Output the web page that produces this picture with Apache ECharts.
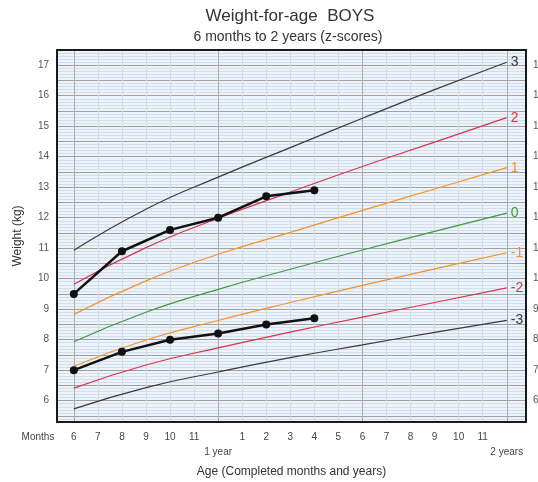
<!DOCTYPE html>
<html>
<head>
<meta charset="utf-8">
<script src="https://cdn.jsdelivr.net/npm/echarts@6/dist/echarts.min.js"></script>
<style>html,body{margin:0;padding:0;background:#fff}#c{width:538px;height:482px}</style>
</head>
<body>
<div id="c"></div>
<script>
// Age in months at which the reference curves are read
const months = [6,9,12,15,18,21,24];
// Reference z-score curves (kg)
const zNeg3 = [5.73,6.43,6.94,7.41,7.83,8.24,8.63];
const zNeg2 = [6.41,7.17,7.73,8.25,8.74,9.22,9.70];
const zNeg1 = [7.13,7.99,8.63,9.22,9.78,10.32,10.85];
const z0    = [7.93,8.90,9.65,10.31,10.94,11.55,12.15];
const zPos1 = [8.83,9.93,10.80,11.52,12.24,12.94,13.64];
const zPos2 = [9.82,11.02,11.98,12.84,13.68,14.48,15.28];
const zPos3 = [10.93,12.28,13.33,14.30,15.26,16.20,17.10];
// Plotted child measurements
const childMonths = [6,8,10,12,14,16];
const childA = [9.5,10.9,11.6,12.0,12.7,12.9];
const childB = [7.0,7.6,8.0,8.2,8.5,8.7];
// Axis tick labels
const xTickValues = [6,7,8,9,10,11,12,13,14,15,16,17,18,19,20,21,22,23,24];
const xTickLabels = ['6','7','8','9','10','11','\n1 year','1','2','3','4','5','6','7','8','9','10','11','\n2 years'];

const pair = (xs, ys) => xs.map((x, i) => [x, ys[i]]);
const font = '"Liberation Sans", Arial, sans-serif';
const frame = { show: true, lineStyle: { color: '#1a1a1a', width: 2 } };

function curve(name, ys, color, label) {
  return {
    type: 'line', name, data: pair(months, ys), smooth: true, symbol: 'none',
    lineStyle: { color, width: 1.2 }, silent: true, z: 3,
    endLabel: { show: true, formatter: label, color, fontSize: 14, fontFamily: font, distance: 4 }
  };
}
function child(ys) {
  return {
    type: 'line', data: pair(childMonths, ys), symbol: 'circle', symbolSize: 8,
    lineStyle: { color: '#111', width: 2.5 }, itemStyle: { color: '#111' }, z: 5, silent: true
  };
}
const yLabel = v => Math.abs(v - Math.round(v)) < 1e-6 ? String(Math.round(v)) : '';

const chart = echarts.init(document.getElementById('c'), null, { renderer: 'canvas' });
chart.setOption({
  animation: false,
  backgroundColor: '#fff',
  graphic: [
    { type: 'text', x: 290, y: 16, style: { text: 'Weight-for-age  BOYS', font: '17px ' + font, fill: '#333', align: 'center', verticalAlign: 'middle' } },
    { type: 'text', x: 288, y: 37, style: { text: '6 months to 2 years (z-scores)', font: '14px ' + font, fill: '#333', align: 'center', verticalAlign: 'middle' } },
    { type: 'text', x: 38, y: 437, style: { text: 'Months', font: '10px ' + font, fill: '#444', align: 'center', verticalAlign: 'middle' } }
  ],
  grid: { left: 57, right: 12, top: 50, bottom: 60, outerBoundsMode: 'none', containLabel: false,
          show: true, backgroundColor: '#edf3fa', borderWidth: 0 },
  xAxis: [{
    type: 'value', min: 5.3, max: 24.8,
    axisLine: frame,
    axisTick: { show: false, customValues: xTickValues },
    axisLabel: {
      customValues: xTickValues, color: '#444', fontSize: 10, fontFamily: font, margin: 8, lineHeight: 15,
      formatter: v => { const i = xTickValues.indexOf(Math.round(v)); return i >= 0 ? xTickLabels[i] : ''; }
    },
    splitLine: { show: true, lineStyle: { color: ['#a9adb2', '#d3dae3', '#d3dae3', '#d3dae3', '#d3dae3', '#d3dae3'], width: 1 } },
    name: 'Age (Completed months and years)', nameLocation: 'middle', nameGap: 44,
    nameTextStyle: { fontSize: 12, color: '#333', fontFamily: font }
  }, {
    type: 'value', min: 5.3, max: 24.8, position: 'top',
    axisLine: frame, axisTick: { show: false }, axisLabel: { show: false }, splitLine: { show: false }
  }],
  yAxis: [{
    type: 'value', min: 5.3, max: 17.5, interval: 0.1,
    axisLine: frame, axisTick: { show: false },
    axisLabel: { formatter: yLabel, color: '#555', fontSize: 10, fontFamily: font, margin: 8 },
    splitLine: { show: true, lineStyle: { color: ['#d2deec', '#d2deec', '#a0a0a0', '#d2deec', '#d2deec'], width: 1 } },
    name: 'Weight (kg)', nameLocation: 'middle', nameGap: 33,
    nameTextStyle: { fontSize: 12, color: '#333', fontFamily: font }
  }, {
    type: 'value', min: 5.3, max: 17.5, interval: 0.1, position: 'right',
    axisLine: frame, axisTick: { show: false }, splitLine: { show: false },
    axisLabel: { formatter: yLabel, color: '#555', fontSize: 10, fontFamily: font, margin: 7 }
  }],
  series: [
    curve('3', zPos3, '#3a3a3a', '3'),
    curve('2', zPos2, '#d7344e', '2'),
    curve('1', zPos1, '#f5932a', '1'),
    curve('0', z0, '#3d9b3d', '0'),
    curve('-1', zNeg1, '#f5932a', '-1'),
    curve('-2', zNeg2, '#d7344e', '-2'),
    curve('-3', zNeg3, '#3a3a3a', '-3'),
    child(childA),
    child(childB)
  ]
});
</script>
</body>
</html>
